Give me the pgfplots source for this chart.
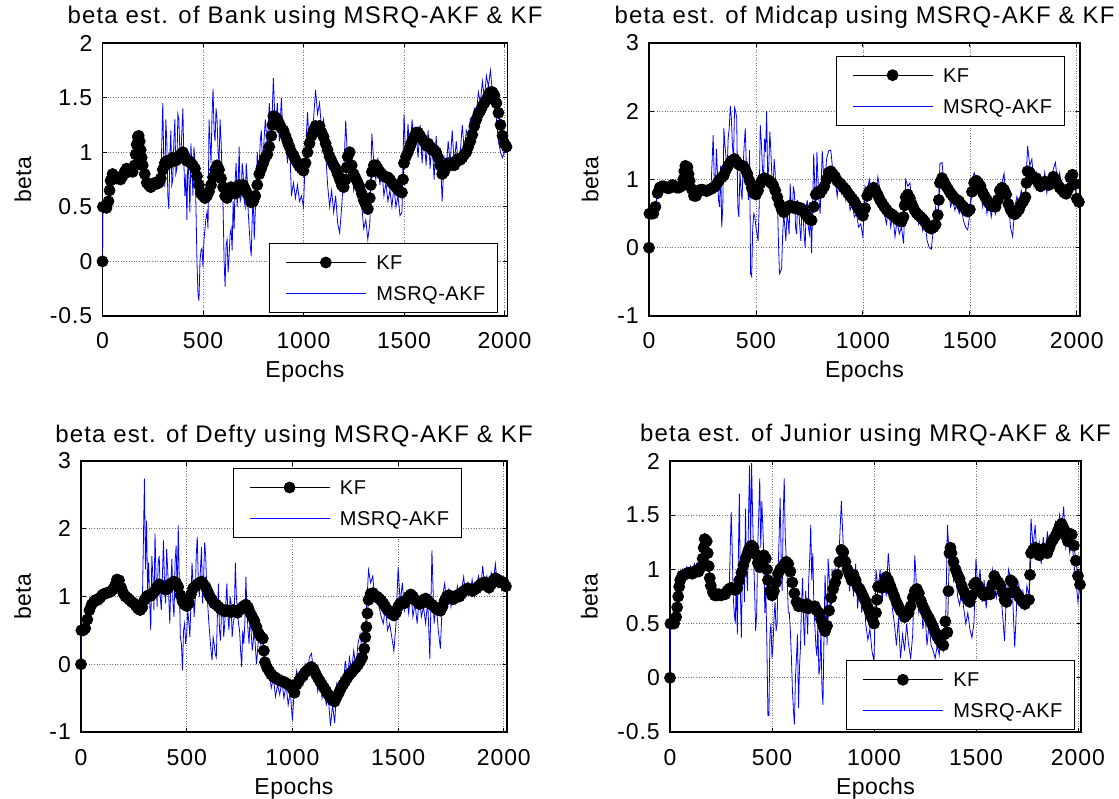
\documentclass[border=0pt]{standalone}
\usepackage{fontspec}
\setmainfont{Liberation Sans}
\newfontfamily\tfont[LetterSpace=5]{Liberation Sans}
\newfontfamily\kfont[LetterSpace=4]{Liberation Sans}
\newfontfamily\lfont[LetterSpace=2]{Liberation Sans}
\newfontfamily\gfont[LetterSpace=2.5]{Liberation Sans}
\usepackage{pgfplots}
\usepackage{pgfplotstable}
\pgfplotsset{compat=1.18}

% ---------- Bank ----------
\pgfplotstableread{
x k
0 0
2 0.5
10 0.5
20 0.49
30 0.55
35 0.65
40 0.74
50 0.8
60 0.78
70 0.76
80 0.76
90 0.75
100 0.78
110 0.82
120 0.85
130 0.82
140 0.84
150 0.82
160 0.88
165 0.98
170 1.07
175 1.14
180 1.15
185 1.1
190 1.02
195 0.95
200 0.88
210 0.8
220 0.72
230 0.7
240 0.68
250 0.7
260 0.72
270 0.71
280 0.72
290 0.76
300 0.84
310 0.9
320 0.92
330 0.9
340 0.93
350 0.95
360 0.92
370 0.93
380 0.95
390 0.98
400 1.0
410 0.96
420 0.92
430 0.92
440 0.9
450 0.88
460 0.85
470 0.78
480 0.7
490 0.62
500 0.6
510 0.58
520 0.6
530 0.64
540 0.7
550 0.77
560 0.84
570 0.88
580 0.84
590 0.76
600 0.68
610 0.6
620 0.58
630 0.62
640 0.68
650 0.65
660 0.62
670 0.68
680 0.7
690 0.66
700 0.7
710 0.66
720 0.62
730 0.6
740 0.54
750 0.55
760 0.6
770 0.7
780 0.8
790 0.85
800 0.9
810 0.95
820 0.98
830 1.05
840 1.15
845 1.25
850 1.33
860 1.32
870 1.3
880 1.26
890 1.22
900 1.2
910 1.15
920 1.1
930 1.05
940 1.0
950 0.97
960 0.93
970 0.9
980 0.87
990 0.85
1000 0.83
1010 0.9
1020 1.0
1030 1.08
1040 1.15
1050 1.2
1060 1.24
1070 1.22
1080 1.24
1090 1.18
1100 1.14
1110 1.08
1120 1.02
1130 0.96
1140 0.92
1150 0.88
1160 0.85
1170 0.8
1180 0.75
1190 0.7
1200 0.68
1210 0.75
1215 0.86
1220 0.96
1230 1.0
1240 0.88
1250 0.8
1260 0.76
1270 0.72
1280 0.68
1290 0.62
1300 0.56
1310 0.52
1320 0.48
1330 0.58
1335 0.7
1340 0.82
1350 0.88
1360 0.88
1370 0.85
1380 0.82
1390 0.8
1400 0.78
1410 0.77
1420 0.77
1430 0.75
1440 0.72
1450 0.7
1460 0.68
1470 0.66
1480 0.64
1490 0.63
1495 0.75
1500 0.9
1510 0.96
1520 1.0
1530 1.05
1540 1.1
1550 1.14
1560 1.18
1570 1.18
1580 1.15
1590 1.12
1600 1.1
1610 1.06
1620 1.08
1630 1.05
1640 1.02
1650 1.02
1660 1.0
1670 0.95
1680 0.88
1690 0.8
1700 0.82
1710 0.88
1720 0.9
1730 0.88
1740 0.9
1750 0.88
1760 0.92
1770 0.94
1780 0.93
1790 0.95
1800 0.98
1810 1.0
1820 1.05
1830 1.1
1840 1.16
1850 1.24
1860 1.3
1870 1.35
1880 1.38
1890 1.42
1900 1.45
1910 1.48
1920 1.52
1930 1.55
1940 1.55
1950 1.52
1960 1.45
1970 1.36
1980 1.25
1990 1.15
2000 1.08
2010 1.05
}\bankk

\pgfplotstableread{
x a
0 0
2 0.5
10 0.5
20 0.5
30 0.6
40 0.8
50 0.78
60 0.82
70 0.72
80 0.8
90 0.75
100 0.85
110 0.78
120 0.88
130 0.82
140 0.8
150 0.88
160 0.95
170 1.12
180 1.0
190 1.05
200 0.82
210 0.7
220 0.75
230 0.68
240 0.72
250 0.65
260 0.74
270 0.68
280 0.78
290 0.72
300 1.45
305 0.9
310 0.68
315 1.3
320 1.1
325 0.6
330 0.48
335 0.95
340 1.2
345 0.7
350 0.75
355 1.1
360 1.3
365 0.8
370 0.85
375 1.35
380 1.3
385 1.0
390 0.95
395 1.2
400 1.4
405 0.9
410 0.6
415 0.8
420 0.38
425 1.0
430 0.75
435 0.45
440 1.08
445 0.85
450 0.6
455 1.05
460 0.9
465 0.5
470 0.0
475 -0.3
480 -0.36
485 0.0
490 0.1
495 0.12
500 -0.05
505 0.2
510 0.3
515 0.4
520 0.45
525 0.3
530 1.3
535 1.1
540 0.9
545 1.35
550 1.58
555 1.2
560 1.1
565 1.4
570 1.3
575 1.0
580 0.9
585 1.3
590 1.1
595 0.8
600 0.5
605 0.0
610 -0.23
615 0.15
620 0.2
625 -0.1
630 0.05
635 0.25
640 0.3
645 0.1
650 0.55
655 0.3
660 0.75
665 0.9
670 0.5
675 0.7
680 1.05
685 0.55
690 0.6
695 0.9
700 0.8
705 0.55
710 0.5
715 0.9
720 0.75
725 0.45
730 0.3
735 0.15
740 0.05
745 0.4
750 0.6
755 0.2
760 0.45
765 0.7
770 1.0
775 0.85
780 0.9
785 1.1
790 1.2
795 0.95
800 1.0
810 1.3
820 1.05
830 1.45
840 1.1
850 1.68
860 1.2
870 1.45
880 1.1
890 1.5
900 1.05
910 1.2
920 0.9
930 1.15
940 0.6
950 0.72
960 0.58
970 0.7
980 0.55
990 0.6
1000 0.5
1010 1.0
1020 1.37
1030 1.0
1040 1.2
1050 1.3
1060 1.57
1070 1.35
1080 1.45
1090 1.2
1100 1.3
1110 1.0
1120 0.7
1130 0.5
1140 0.65
1150 0.45
1160 0.6
1170 0.35
1180 0.26
1190 0.5
1200 0.8
1210 1.29
1220 0.9
1230 0.75
1240 0.85
1250 0.65
1260 0.78
1270 0.6
1280 0.75
1290 0.5
1300 0.3
1310 0.38
1320 0.2
1330 0.35
1340 1.17
1350 0.9
1360 0.75
1370 0.95
1380 0.7
1390 0.85
1400 0.6
1410 0.72
1420 0.55
1430 0.65
1440 0.5
1450 0.68
1460 0.5
1470 0.6
1480 0.42
1490 0.45
1500 1.35
1510 0.9
1520 1.26
1530 0.95
1540 1.3
1550 1.05
1560 1.2
1570 0.95
1580 1.25
1590 0.9
1600 1.15
1610 0.88
1620 1.2
1630 0.85
1640 1.1
1650 0.75
1660 1.15
1670 0.8
1680 1.0
1690 0.55
1700 0.95
1710 0.85
1720 1.1
1730 0.9
1740 1.2
1750 0.88
1760 1.1
1770 0.9
1780 1.0
1790 1.25
1800 1.0
1810 1.2
1820 1.15
1830 1.3
1840 1.2
1850 1.4
1860 1.35
1870 1.55
1880 1.45
1890 1.65
1900 1.5
1910 1.7
1920 1.6
1930 1.75
1940 1.55
1950 1.45
1960 1.3
1970 1.1
1980 1.0
1990 0.95
2000 1.0
2010 1.02
}\banka

% ---------- Midcap ----------
\pgfplotstableread{
x k
0 0
2 0.5
10 0.5
20 0.5
30 0.6
40 0.8
50 0.88
60 0.9
70 0.9
80 0.88
90 0.87
100 0.88
110 0.92
120 0.9
130 0.88
140 0.88
150 0.9
160 1.0
165 1.12
170 1.2
180 1.18
185 1.08
190 0.98
200 0.86
210 0.76
220 0.76
230 0.82
240 0.85
250 0.85
260 0.84
270 0.83
280 0.85
290 0.86
300 0.88
310 0.9
320 0.95
330 1.0
340 1.03
350 1.06
360 1.14
370 1.2
380 1.25
390 1.28
400 1.3
410 1.26
420 1.22
430 1.2
440 1.2
450 1.15
460 1.08
470 0.98
480 0.88
490 0.8
500 0.78
510 0.84
520 0.94
530 1.0
540 1.02
550 1.0
560 0.98
570 0.95
580 0.92
590 0.84
600 0.74
610 0.64
620 0.56
630 0.52
640 0.55
650 0.6
660 0.62
670 0.6
680 0.58
690 0.6
700 0.56
710 0.58
720 0.55
730 0.5
740 0.46
750 0.42
760 0.4
770 0.6
780 0.78
790 0.82
800 0.8
810 0.85
820 0.9
830 1.0
840 1.1
850 1.12
860 1.08
870 1.04
880 0.98
890 0.95
900 0.92
910 0.88
920 0.85
930 0.8
940 0.76
950 0.72
960 0.68
970 0.62
980 0.57
990 0.52
1000 0.47
1010 0.58
1020 0.76
1030 0.82
1040 0.85
1050 0.88
1060 0.83
1070 0.77
1080 0.7
1090 0.65
1100 0.6
1110 0.56
1120 0.52
1130 0.5
1140 0.48
1150 0.45
1160 0.42
1170 0.4
1180 0.38
1190 0.45
1195 0.62
1200 0.74
1210 0.78
1220 0.72
1230 0.63
1240 0.56
1250 0.51
1260 0.48
1270 0.45
1280 0.42
1290 0.38
1300 0.33
1310 0.3
1320 0.28
1330 0.3
1340 0.34
1350 0.48
1355 0.7
1360 0.95
1370 1.02
1380 0.96
1390 0.9
1400 0.85
1410 0.8
1420 0.76
1430 0.72
1440 0.7
1450 0.68
1460 0.63
1470 0.6
1480 0.56
1490 0.53
1500 0.56
1510 0.82
1520 0.95
1530 0.98
1540 0.95
1550 0.9
1560 0.81
1570 0.75
1580 0.7
1590 0.65
1600 0.61
1610 0.62
1620 0.6
1630 0.7
1640 0.84
1650 0.88
1660 0.85
1670 0.78
1680 0.64
1690 0.56
1700 0.51
1710 0.49
1720 0.52
1730 0.56
1740 0.64
1750 0.68
1760 0.74
1765 0.95
1770 1.12
1780 1.1
1790 1.05
1800 1.01
1810 1.02
1820 0.96
1830 0.9
1840 0.92
1850 0.97
1860 0.95
1870 0.92
1880 0.97
1890 1.04
1900 1.0
1910 0.93
1920 0.88
1930 0.85
1940 0.81
1950 0.79
1960 0.86
1970 1.03
1980 1.07
1990 0.93
2000 0.72
2010 0.67
}\midk

\pgfplotstableread{
x a
0 0
2 0.5
10 0.5
20 0.48
30 0.6
40 0.8
50 0.85
60 0.9
70 0.86
80 0.92
90 0.84
100 0.9
110 0.9
120 0.86
130 0.92
140 0.87
150 0.95
160 1.0
170 1.22
180 1.05
190 0.9
200 0.8
210 0.75
220 0.72
230 0.85
240 0.8
250 0.88
260 0.82
270 0.9
280 0.8
290 0.88
300 1.65
305 1.0
310 0.84
315 1.45
320 1.1
325 0.7
330 0.6
335 1.2
340 0.3
345 0.6
350 1.75
355 1.5
360 1.33
365 1.1
370 1.6
375 1.75
380 2.08
385 1.9
390 1.5
395 1.3
400 2.05
405 2.0
410 1.9
415 0.6
420 0.45
425 1.1
430 0.85
435 0.7
440 1.2
445 1.5
450 1.75
455 1.2
460 0.9
465 0.7
470 1.43
475 -0.38
480 -0.42
485 0.3
490 0.5
495 0.45
500 0.3
505 0.2
510 0.1
515 0.6
520 1.8
525 1.55
530 1.2
535 0.9
540 1.6
545 1.4
550 2.0
555 1.0
560 1.2
565 1.7
570 1.4
575 1.0
580 0.85
585 1.3
590 1.1
595 0.6
600 0.75
605 0.1
610 -0.38
615 -0.35
620 -0.3
625 0.2
630 0.5
635 0.3
640 0.1
645 0.5
650 0.4
655 0.2
660 0.94
665 0.6
670 0.5
675 0.9
680 0.8
685 0.3
690 0.2
695 0.7
700 0.6
705 0.3
710 0.1
715 0.6
720 0.5
725 0.2
730 0.0
735 0.6
740 0.7
745 0.3
750 0.2
755 0.5
760 -0.08
765 0.6
770 1.38
775 0.9
780 0.6
785 1.4
790 1.0
795 0.7
800 0.5
810 1.42
820 0.84
830 1.3
840 1.42
850 1.43
860 1.1
870 1.0
880 0.75
890 1.05
900 0.8
910 0.95
920 0.7
930 0.9
940 0.55
950 0.65
960 0.45
970 0.5
980 0.3
990 0.35
1000 0.16
1010 0.9
1020 0.82
1030 1.0
1040 0.8
1050 0.95
1060 0.78
1070 1.04
1080 0.85
1090 0.6
1100 0.5
1110 0.35
1120 0.6
1130 0.3
1140 0.5
1150 0.16
1160 0.4
1170 0.2
1180 0.3
1190 0.06
1200 1.0
1210 0.9
1220 0.95
1230 0.6
1240 0.45
1250 0.65
1260 0.35
1270 0.5
1280 0.25
1290 0.4
1300 0.11
1310 0.0
1320 -0.02
1330 0.3
1340 0.6
1350 0.3
1360 1.23
1370 1.25
1380 0.9
1390 0.75
1400 0.85
1410 0.6
1420 0.7
1430 0.55
1440 0.65
1450 0.5
1460 0.6
1470 0.4
1480 0.3
1490 0.26
1500 0.5
1510 0.95
1520 1.1
1530 1.0
1540 1.05
1550 0.85
1560 0.6
1570 0.8
1580 0.5
1590 0.7
1600 0.45
1610 0.65
1620 0.5
1630 0.8
1640 0.75
1650 0.95
1660 1.09
1670 0.6
1680 0.7
1690 0.3
1700 0.16
1710 0.6
1720 0.75
1730 0.6
1740 0.84
1750 0.7
1760 0.8
1770 1.49
1780 1.2
1790 1.3
1800 0.9
1810 1.1
1820 0.89
1830 1.05
1840 0.85
1850 1.1
1860 0.8
1870 1.0
1880 0.9
1890 1.15
1900 1.25
1910 0.95
1920 1.1
1930 0.8
1940 0.9
1950 0.75
1960 1.0
1970 1.1
1980 0.9
1990 1.0
2000 0.72
2010 0.68
}\mida

% ---------- Defty ----------
\pgfplotstableread{
x k
0 0
2 0.5
10 0.5
20 0.53
30 0.66
40 0.8
50 0.88
60 0.92
70 0.95
80 0.95
90 0.98
100 1.02
110 1.04
120 1.05
130 1.06
140 1.07
150 1.1
160 1.16
170 1.25
180 1.24
190 1.13
200 1.05
210 1.0
220 0.98
230 0.95
240 0.92
250 0.9
260 0.86
270 0.82
280 0.8
290 0.84
300 0.95
310 1.0
320 1.02
330 1.01
340 1.05
350 1.08
360 1.14
370 1.18
380 1.15
390 1.12
400 1.1
410 1.12
420 1.18
430 1.2
440 1.22
450 1.2
460 1.14
470 1.02
480 0.93
490 0.88
500 0.86
510 0.9
520 1.03
530 1.12
540 1.15
550 1.18
560 1.2
570 1.22
580 1.18
590 1.14
600 1.07
610 1.0
620 0.95
630 0.9
640 0.88
650 0.85
660 0.82
670 0.8
680 0.78
690 0.8
700 0.78
710 0.77
720 0.8
730 0.78
740 0.76
750 0.8
760 0.83
770 0.86
780 0.88
790 0.84
800 0.76
810 0.7
820 0.64
830 0.55
840 0.46
850 0.41
860 0.38
865 0.2
870 0.03
880 -0.05
890 -0.1
900 -0.15
910 -0.18
920 -0.2
930 -0.22
940 -0.24
950 -0.25
960 -0.26
970 -0.28
980 -0.3
990 -0.31
1000 -0.36
1010 -0.42
1020 -0.3
1030 -0.25
1040 -0.2
1050 -0.17
1060 -0.12
1070 -0.09
1080 -0.06
1090 -0.04
1100 -0.07
1110 -0.14
1120 -0.2
1130 -0.25
1140 -0.3
1150 -0.35
1160 -0.4
1170 -0.45
1180 -0.5
1190 -0.53
1200 -0.55
1210 -0.48
1220 -0.42
1230 -0.35
1240 -0.3
1250 -0.25
1260 -0.2
1270 -0.15
1280 -0.12
1290 -0.08
1300 -0.05
1310 -0.01
1320 0.04
1330 0.1
1340 0.23
1345 0.4
1350 0.55
1355 0.75
1360 0.95
1370 1.04
1380 1.05
1390 1.01
1400 1.0
1410 0.97
1420 0.94
1430 0.9
1440 0.85
1450 0.8
1460 0.78
1470 0.74
1480 0.72
1490 0.76
1500 0.85
1510 0.9
1520 0.92
1530 0.9
1540 0.95
1550 1.0
1560 1.03
1570 1.0
1580 0.95
1590 0.92
1600 0.89
1610 0.9
1620 0.95
1630 0.97
1640 0.94
1650 0.9
1660 0.88
1670 0.85
1680 0.82
1690 0.8
1700 0.79
1710 0.85
1720 0.94
1730 1.0
1740 1.02
1750 1.0
1760 0.96
1770 0.98
1780 1.02
1790 1.0
1800 1.05
1810 1.08
1820 1.1
1830 1.12
1840 1.1
1850 1.08
1860 1.1
1870 1.12
1880 1.15
1890 1.18
1900 1.2
1910 1.21
1920 1.16
1930 1.13
1940 1.18
1950 1.24
1960 1.27
1970 1.25
1980 1.21
1990 1.22
2000 1.2
2010 1.15
}\deftk

\pgfplotstableread{
x a
0 0
2 0.5
10 0.5
20 0.5
30 0.6
40 0.75
50 0.85
60 0.88
70 0.9
80 0.92
90 0.95
100 0.98
110 1.0
120 1.02
130 1.04
140 1.05
150 1.08
160 1.1
170 1.22
180 1.15
190 1.05
200 1.0
210 0.95
220 0.92
230 0.95
240 0.9
250 0.88
260 0.85
270 0.8
280 0.82
290 0.85
300 2.74
305 1.4
310 2.12
315 1.1
320 1.5
325 0.9
330 0.5
335 1.6
340 1.3
345 0.8
350 1.93
355 1.3
360 0.85
365 1.5
370 1.6
375 1.0
380 0.8
385 1.3
390 1.83
395 1.2
400 0.9
405 1.7
410 1.4
415 1.0
420 0.6
425 1.2
430 1.55
435 0.9
440 0.7
445 1.5
450 1.75
455 1.0
460 2.05
465 1.2
470 0.4
475 0.3
480 -0.09
485 0.5
490 0.6
495 0.3
500 0.45
505 0.8
510 0.62
515 0.4
520 0.9
525 1.5
530 1.2
535 0.7
540 0.95
545 1.6
550 1.88
555 1.2
560 1.0
565 1.4
570 1.73
575 0.9
580 1.3
585 1.8
590 1.58
595 1.1
600 0.85
605 0.6
610 0.4
615 0.2
620 0.06
625 0.4
630 0.3
635 0.15
640 0.1
645 0.7
650 1.19
655 0.5
660 0.35
665 0.8
670 0.9
675 0.4
680 0.6
685 0.9
690 1.19
695 0.7
700 0.5
705 1.0
710 0.9
715 0.4
720 0.6
725 0.7
730 1.5
735 1.0
740 0.8
745 0.6
750 0.5
755 0.2
760 -0.04
765 0.5
770 0.3
775 0.6
780 1.29
785 0.8
790 0.5
795 0.3
800 0.75
810 0.2
820 0.5
830 0.0
840 0.4
850 0.3
860 0.15
870 -0.04
880 -0.2
890 -0.1
900 -0.35
910 -0.2
920 -0.48
930 -0.3
940 -0.45
950 -0.25
960 -0.5
970 -0.3
980 -0.6
990 -0.4
1000 -0.83
1010 -0.3
1020 -0.1
1030 -0.35
1040 -0.15
1050 -0.3
1060 0.0
1070 -0.2
1080 0.1
1090 0.16
1100 -0.1
1110 -0.2
1120 -0.4
1130 -0.15
1140 -0.5
1150 -0.3
1160 -0.6
1170 -0.5
1180 -0.91
1190 -0.6
1200 -0.87
1210 -0.3
1220 -0.5
1230 -0.2
1240 -0.38
1250 0.05
1260 -0.2
1270 0.1
1280 -0.1
1290 0.2
1300 -0.05
1310 0.3
1320 0.45
1330 0.2
1340 0.3
1350 0.8
1360 1.39
1370 1.2
1380 1.3
1390 0.95
1400 1.1
1410 0.85
1420 0.7
1430 0.6
1440 0.85
1450 0.5
1460 0.6
1470 0.4
1480 0.2
1490 0.6
1500 1.43
1510 0.9
1520 1.2
1530 0.8
1540 1.0
1550 0.75
1560 1.09
1570 0.7
1580 0.9
1590 0.6
1600 1.0
1610 0.7
1620 0.85
1630 0.6
1640 0.94
1650 0.08
1660 1.68
1670 0.6
1680 0.9
1690 0.5
1700 0.23
1710 1.0
1720 1.19
1730 0.9
1740 1.1
1750 0.85
1760 1.05
1770 0.9
1780 1.15
1790 0.95
1800 1.1
1810 1.29
1820 1.0
1830 1.2
1840 1.05
1850 1.25
1860 1.0
1870 1.15
1880 1.3
1890 1.1
1900 1.45
1910 1.15
1920 1.3
1930 1.05
1940 1.35
1950 1.2
1960 1.48
1970 1.15
1980 1.3
1990 1.1
2000 1.25
2010 1.15
}\defta

% ---------- Junior ----------
\pgfplotstableread{
x k
0 0
2 0.5
10 0.5
20 0.5
30 0.56
35 0.65
40 0.75
45 0.84
50 0.9
60 0.94
70 0.95
80 0.96
90 0.97
100 0.97
110 0.96
120 0.98
130 0.99
140 0.98
150 1.02
160 1.1
165 1.2
170 1.28
180 1.26
185 1.15
190 1.03
195 0.92
200 0.85
210 0.79
220 0.76
230 0.76
240 0.77
250 0.76
260 0.77
270 0.77
280 0.8
290 0.82
300 0.83
310 0.82
320 0.81
330 0.83
340 0.9
350 0.97
360 1.04
370 1.1
380 1.15
390 1.2
400 1.22
410 1.2
420 1.14
430 1.06
440 1.02
450 1.08
460 1.13
470 1.1
475 1.0
480 0.9
490 0.8
500 0.76
510 0.8
520 0.88
530 0.96
540 1.0
550 1.02
560 1.05
570 1.07
580 1.05
590 0.98
600 0.88
610 0.78
620 0.7
630 0.66
640 0.68
650 0.66
660 0.65
670 0.68
680 0.64
690 0.66
700 0.65
710 0.66
720 0.62
730 0.6
740 0.54
750 0.48
760 0.43
770 0.48
780 0.62
790 0.74
800 0.82
810 0.88
820 0.95
830 1.07
840 1.18
850 1.16
860 1.07
870 1.0
880 0.95
890 0.9
900 0.95
910 0.9
920 0.84
930 0.82
940 0.78
950 0.74
960 0.7
970 0.65
980 0.6
990 0.55
1000 0.5
1010 0.6
1015 0.72
1020 0.84
1030 0.85
1040 0.83
1050 0.88
1060 0.93
1070 0.9
1080 0.85
1090 0.8
1100 0.75
1110 0.7
1120 0.66
1130 0.62
1140 0.6
1150 0.56
1160 0.58
1170 0.6
1180 0.66
1190 0.74
1200 0.8
1210 0.82
1220 0.78
1230 0.71
1240 0.66
1250 0.62
1260 0.58
1270 0.55
1280 0.51
1290 0.47
1300 0.42
1310 0.38
1320 0.35
1330 0.32
1340 0.3
1345 0.4
1350 0.52
1360 0.42
1365 0.8
1370 1.15
1375 1.2
1380 1.15
1390 1.07
1400 1.0
1410 0.95
1420 0.91
1430 0.85
1440 0.8
1450 0.75
1460 0.72
1470 0.7
1480 0.76
1490 0.86
1500 0.88
1510 0.85
1520 0.8
1530 0.78
1540 0.76
1550 0.79
1560 0.78
1570 0.77
1580 0.86
1590 0.94
1600 0.9
1610 0.88
1620 0.85
1630 0.79
1640 0.72
1650 0.7
1660 0.78
1670 0.9
1680 0.88
1690 0.8
1700 0.78
1710 0.75
1720 0.72
1730 0.7
1740 0.68
1750 0.72
1760 0.72
1765 0.95
1770 1.15
1780 1.18
1790 1.2
1800 1.16
1810 1.13
1820 1.15
1830 1.19
1840 1.18
1850 1.15
1860 1.2
1870 1.25
1880 1.28
1890 1.31
1900 1.35
1910 1.4
1920 1.42
1930 1.38
1940 1.31
1950 1.26
1960 1.33
1970 1.32
1980 1.22
1990 1.08
2000 0.94
2010 0.86
}\junk

\pgfplotstableread{
x a
0 0
2 0.5
10 0.5
20 0.5
30 0.52
40 0.98
50 0.95
60 1.0
70 0.92
80 1.02
90 0.95
100 1.03
110 0.98
120 1.05
130 0.95
140 1.02
150 1.05
160 1.15
170 1.29
180 1.1
190 1.05
200 0.8
210 0.75
220 0.8
230 0.72
240 0.82
250 0.76
260 0.82
270 0.74
280 0.85
290 0.8
300 1.53
305 1.2
310 0.74
315 0.6
320 0.5
325 0.9
330 0.4
335 1.1
340 1.7
345 0.8
350 0.37
355 1.0
360 1.2
365 0.7
370 1.56
375 1.0
380 0.8
385 1.5
390 1.96
395 1.2
400 1.98
405 1.5
410 1.1
415 0.8
420 0.43
425 0.6
430 1.2
435 1.5
440 1.84
445 1.2
450 1.63
455 1.4
460 1.1
465 0.6
470 0.8
475 0.3
480 -0.35
485 -0.35
490 0.4
495 0.5
500 0.18
505 0.3
510 0.55
515 0.7
520 0.43
525 0.5
530 1.0
535 1.3
540 1.66
545 1.1
550 0.8
555 1.5
560 1.84
565 1.3
570 1.1
575 0.9
580 0.6
585 0.6
590 0.43
595 0.2
600 -0.1
605 -0.3
610 -0.43
615 0.0
620 0.18
625 0.4
630 -0.28
635 0.1
640 0.3
645 0.7
650 0.92
655 0.5
660 0.3
665 0.8
670 0.6
675 0.4
680 0.9
685 1.1
690 1.41
695 0.9
700 1.15
705 0.7
710 0.49
715 0.3
720 0.2
725 0.5
730 0.03
735 0.1
740 0.45
745 -0.1
750 -0.25
755 0.4
760 0.95
765 0.7
770 0.3
775 1.1
780 0.95
785 0.7
790 0.6
795 1.0
800 0.8
810 1.0
820 0.85
830 1.2
840 1.63
850 1.2
860 1.1
870 1.17
880 0.8
890 1.0
900 0.75
910 1.05
920 0.64
930 0.9
940 0.6
950 0.8
960 0.49
970 0.35
980 0.45
990 0.25
1000 0.15
1010 1.0
1020 0.8
1030 1.0
1040 0.7
1050 0.95
1060 0.75
1070 1.15
1080 0.9
1090 0.64
1100 0.5
1110 0.3
1120 0.55
1130 0.18
1140 0.4
1150 0.25
1160 0.5
1170 0.3
1180 0.18
1190 0.4
1200 1.13
1210 0.8
1220 0.6
1230 0.74
1240 0.45
1250 0.6
1260 0.3
1270 0.5
1280 0.3
1290 0.25
1300 0.18
1310 0.3
1320 0.21
1330 0.43
1340 0.25
1350 0.35
1360 1.41
1370 1.1
1380 1.2
1390 0.9
1400 1.0
1410 0.75
1420 0.67
1430 0.8
1440 0.64
1450 0.5
1460 0.6
1470 0.45
1480 0.37
1490 0.5
1500 1.1
1510 0.8
1520 1.0
1530 0.7
1540 0.9
1550 0.64
1560 0.85
1570 0.75
1580 1.0
1590 0.86
1600 0.74
1610 0.9
1620 0.8
1630 0.6
1640 0.34
1650 0.8
1660 1.0
1670 0.9
1680 0.74
1690 0.28
1700 0.7
1710 0.86
1720 0.7
1730 0.8
1740 0.64
1750 0.85
1760 0.75
1770 1.47
1780 1.2
1790 1.41
1800 1.1
1810 1.25
1820 1.05
1830 1.3
1840 1.1
1850 1.35
1860 1.15
1870 1.3
1880 1.2
1890 1.45
1900 1.3
1910 1.5
1920 1.35
1930 1.58
1940 1.2
1950 1.3
1960 1.15
1970 1.3
1980 1.05
1990 0.9
2000 0.7
2010 0.85
}\juna

\pgfplotsset{
  myax/.style={
    scale only axis, anchor=south west,
    xmin=0, xmax=2015,
    xtick={0,500,1000,1500,2000}, xticklabels={0,500,1000,1500,2000},
    tick align=inside, major tick length=4.5pt, minor tick num=0,
    tick style={line width=0.9pt, black},
    grid=major, grid style={line width=0.7pt, black!55, dash pattern=on 1pt off 1.6pt},
    axis line style={line width=1.1pt, black},
    title style={font=\tfont\fontsize{24}{28}\selectfont, at={(axis description cs:0.5,1)}, anchor=base, yshift=13pt},
    xlabel={Epochs}, ylabel={beta},
    label style={font=\lfont\fontsize{23}{27}\selectfont},
    xlabel style={at={(axis description cs:0.5,0)}, anchor=base, yshift=-62pt},
    xticklabel style={font=\kfont\fontsize{23}{27}\selectfont, anchor=base, inner sep=0pt, yshift=-33pt},
    yticklabel style={font=\kfont\fontsize{23}{27}\selectfont, anchor=east, inner sep=0pt, xshift=-10pt},
    legend cell align=left,
    legend style={line width=1pt, anchor=north west,
      inner xsep=12pt, inner ysep=9pt, column sep=10pt, row sep=11pt,
      font=\gfont\fontsize{20}{24}\selectfont,
      nodes={inner sep=0pt, text height=17pt, text depth=3pt}},
    legend image code/.code={\path (0pt,0pt); \draw[mark repeat=2,mark phase=2] plot coordinates {(4pt,0pt) (44pt,0pt) (84pt,0pt)};},
  },
  kfp/.style={color=black, draw=black, line width=0.8pt, mark=*, mark size=5.5pt, mark options={solid, draw=black, fill=black}},
  akp/.style={color=blue, draw=blue, line width=0.8pt, mark=none},
}

\begin{document}
\begin{tikzpicture}
\useasboundingbox (0pt,0pt) rectangle (1119pt,798pt);

\begin{axis}[myax, at={(102.5pt,482pt)}, width=405pt, height=273pt,
  ymin=-0.5, ymax=2, ytick={-0.5,0,0.5,1,1.5,2}, yticklabels={-0.5,0,0.5,1,1.5,2},
  title={beta est. of Bank using MSRQ-AKF \& KF},
  ylabel style={at={(axis description cs:-0.1765,0.5)}, anchor=base},
  legend style={at={(0.411,0.2674)}}]
\addplot[kfp] table[x=x,y=k]{\bankk};
\addplot[akp] table[x=x,y=a]{\banka};
\legend{KF,MSRQ-AKF}
\end{axis}

\begin{axis}[myax, at={(649pt,482pt)}, width=431pt, height=273pt,
  ymin=-1, ymax=3, ytick={-1,0,1,2,3}, yticklabels={-1,0,1,2,3},
  title={beta est. of Midcap using MSRQ-AKF \& KF},
  ylabel style={at={(axis description cs:-0.1172,0.5)}, anchor=base},
  legend style={at={(0.4332,0.9535)}}]
\addplot[kfp] table[x=x,y=k]{\midk};
\addplot[akp] table[x=x,y=a]{\mida};
\legend{KF,MSRQ-AKF}
\end{axis}

\begin{axis}[myax, at={(81pt,66pt)}, width=426pt, height=271pt,
  ymin=-1, ymax=3, ytick={-1,0,1,2,3}, yticklabels={-1,0,1,2,3},
  title={beta est. of Defty using MSRQ-AKF \& KF},
  ylabel style={at={(axis description cs:-0.1174,0.5)}, anchor=base},
  legend style={at={(0.3561,0.9742)}}]
\addplot[kfp] table[x=x,y=k]{\deftk};
\addplot[akp] table[x=x,y=a]{\defta};
\legend{KF,MSRQ-AKF}
\end{axis}

\begin{axis}[myax, at={(670pt,66pt)}, width=411pt, height=271pt,
  ymin=-0.5, ymax=2, ytick={-0.5,0,0.5,1,1.5,2}, yticklabels={-0.5,0,0.5,1,1.5,2},
  title={beta est. of Junior using MRQ-AKF \& KF},
  ylabel style={at={(axis description cs:-0.1764,0.5)}, anchor=base},
  legend style={at={(0.4282,0.2646)}}]
\addplot[kfp] table[x=x,y=k]{\junk};
\addplot[akp] table[x=x,y=a]{\juna};
\legend{KF,MSRQ-AKF}
\end{axis}
\end{tikzpicture}
\end{document}
